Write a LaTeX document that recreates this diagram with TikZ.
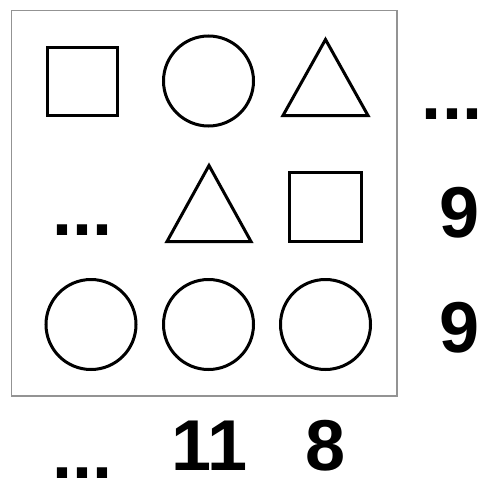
\documentclass[tikz,border=0pt]{standalone}
\usepackage{fontspec}
\setmainfont{Liberation Sans}
\begin{document}
\begin{tikzpicture}[x=1pt,y=-1pt,
  shp/.style={draw=black,line width=3pt,line join=miter},
  lbl/.style={inner sep=0pt,anchor=base,text depth=0pt,text height=52pt,font=\fontsize{72}{72}\bfseries\selectfont}]
\useasboundingbox (0,0) rectangle (479,482);
\draw[line width=1.5pt,draw=gray!85] (11.5,10.5) rectangle (397,396);
% row 1
\draw[shp] (47.5,47.5) rectangle (117.5,115.5);
\draw[shp] (208.5,81) circle[radius=45];
\draw[shp] (283,115.5) -- (325.5,39.5) -- (368,115.5) -- cycle;
% row 2
\draw[shp] (167,241.5) -- (209,165.5) -- (251,241.5) -- cycle;
\draw[shp] (289.5,172.5) rectangle (361.5,241.5);
% row 3
\draw[shp] (91,324.5) circle[radius=45];
\draw[shp] (208.5,324.5) circle[radius=45];
\draw[shp] (325.5,324.5) circle[radius=45];
% labels
\node[lbl,text height=12pt] (r1) at (452,119) {\kern-5pt...\kern-5pt};
\node[lbl] (r2) at (460,237) {9};
\node[lbl] (r3) at (460,352) {9};
\node[lbl,text height=12pt] (m2) at (82.5,235) {\kern-5pt...\kern-5pt};
\node[lbl] (b2) at (209.5,470) {11};
\node[lbl] (b3) at (325.5,470) {8};
\node[lbl,text height=12pt] (b1) at (82.5,478) {\kern-5pt...\kern-5pt};
\end{tikzpicture}
\end{document}
